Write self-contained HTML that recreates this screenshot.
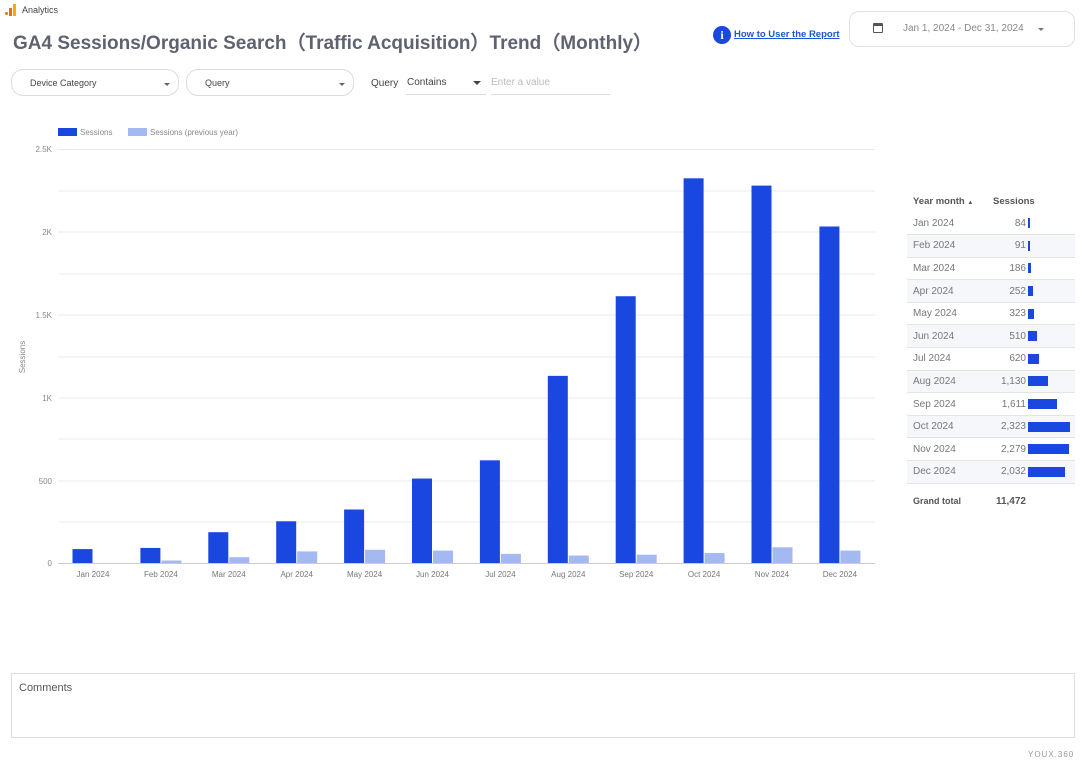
<!DOCTYPE html>
<html><head><meta charset="utf-8"><style>
body{margin:0;width:1085px;height:765px;background:#fff;font-family:"Liberation Sans",sans-serif;position:relative;overflow:hidden;color:#5f6368}
.abs{position:absolute}
.dd{position:absolute;border:1px solid #dadce0;border-radius:12px;height:27px;font-size:9px;color:#444;line-height:27px;padding-left:18px;box-sizing:border-box}
.dd:after{content:"";position:absolute;right:8px;top:13px;border:3px solid transparent;border-top-color:#666}
table{border-collapse:collapse;font-size:10px;table-layout:fixed}
</style></head><body>
<div class="abs" style="left:5px;top:4px;width:12px;height:12px">
<div class="abs" style="left:0;top:8px;width:3px;height:3px;border-radius:2px;background:#e37400"></div>
<div class="abs" style="left:4px;top:4px;width:3px;height:8px;background:#e37400"></div>
<div class="abs" style="left:8px;top:0;width:3px;height:12px;background:#f9ab00"></div></div>
<div class="abs" style="left:22px;top:5px;font-size:9px;color:#444">Analytics</div>
<div class="abs" style="left:13px;top:28px;font-size:19px;font-weight:bold;color:#5f6270;white-space:nowrap">GA4 Sessions/Organic Search（Traffic Acquisition）Trend（Monthly）</div>
<div class="abs" style="left:713px;top:26px;width:18px;height:18px;border-radius:50%;background:#1a47e0;color:#fff;font-weight:bold;font-size:12px;text-align:center;line-height:18px;font-family:'Liberation Serif',serif">i</div>
<div class="abs" style="left:734px;top:29px;font-size:9.5px;color:#1a56d8;text-decoration:underline;font-weight:bold">How to User the Report</div>
<div class="abs" style="left:849px;top:11px;width:226px;height:36px;border:1px solid #e0e0e0;border-radius:10px;box-sizing:border-box"></div>
<div class="abs" style="left:873px;top:23px;width:10px;height:10px;border:1.5px solid #555;border-top-width:3px;border-radius:1px;box-sizing:border-box"></div>
<div class="abs" style="left:903px;top:23px;font-size:10px;color:#888">Jan 1, 2024 - Dec 31, 2024</div>
<div class="abs" style="left:1038px;top:28px;border:3px solid transparent;border-top-color:#777"></div>
<div class="dd" style="left:11px;top:69px;width:168px">Device Category</div>
<div class="dd" style="left:186px;top:69px;width:168px">Query</div>
<div class="abs" style="left:371px;top:78px;font-size:10px;color:#444">Query</div>
<div class="abs" style="left:407px;top:77px;font-size:10px;color:#444">Contains</div>
<div class="abs" style="left:473px;top:81px;border:4px solid transparent;border-top-color:#444"></div>
<div class="abs" style="left:406px;top:94px;width:80px;border-top:1px solid #ddd"></div>
<div class="abs" style="left:491px;top:77px;font-size:10px;color:#bbb">Enter a value</div>
<div class="abs" style="left:491px;top:94px;width:119px;border-top:1px solid #ddd"></div>
<svg class="abs" style="left:0;top:0" width="900" height="600" font-family="Liberation Sans,sans-serif">
<rect x="58" y="128" width="19" height="8" fill="#1a47e0"/><text x="80" y="135" font-size="8" fill="#888">Sessions</text>
<rect x="128" y="128" width="19" height="8" fill="#a4b8f2"/><text x="150" y="135" font-size="8" fill="#888">Sessions (previous year)</text>
<g stroke="#e8e8e8">
<line x1="58" x2="875" y1="149.5" y2="149.5"/><line x1="58" x2="875" y1="191" y2="191"/><line x1="58" x2="875" y1="232" y2="232"/><line x1="58" x2="875" y1="274" y2="274"/><line x1="58" x2="875" y1="315" y2="315"/><line x1="58" x2="875" y1="357" y2="357"/><line x1="58" x2="875" y1="398" y2="398"/><line x1="58" x2="875" y1="439" y2="439"/><line x1="58" x2="875" y1="481" y2="481"/><line x1="58" x2="875" y1="522" y2="522"/></g>
<line x1="58" x2="875" y1="563.5" y2="563.5" stroke="#ccc"/>
<g font-size="8" fill="#888" text-anchor="end">
<text x="52" y="152">2.5K</text><text x="52" y="235">2K</text><text x="52" y="318">1.5K</text><text x="52" y="401">1K</text><text x="52" y="484">500</text><text x="52" y="566">0</text></g>
<text transform="translate(25,357) rotate(-90)" font-size="8" fill="#888" text-anchor="middle">Sessions</text>
<g id="bars"></g>
</svg>
<script>
var s=[84,91,186,252,323,510,620,1130,1611,2323,2279,2032],p=[0,15,35,70,80,75,55,45,50,60,95,75],m=["Jan","Feb","Mar","Apr","May","Jun","Jul","Aug","Sep","Oct","Nov","Dec"],h="";
for(var i=0;i<12;i++){var c=93+i*67.9,k=414/2500;
h+='<rect x="'+(c-20.5)+'" y="'+(563-s[i]*k)+'" width="20" height="'+(s[i]*k)+'" fill="#1a47e0"/>';
if(p[i])h+='<rect x="'+(c+0.5)+'" y="'+(563-p[i]*k)+'" width="20" height="'+(p[i]*k)+'" fill="#a4b8f2"/>';
h+='<text x="'+c+'" y="577" font-size="8" fill="#777" text-anchor="middle">'+m[i]+' 2024</text>';}
document.getElementById("bars").innerHTML=h;
var t='<colgroup><col style="width:78px"><col style="width:42px"><col style="width:48px"></colgroup><tr style="height:22px"><th style="text-align:left;padding-left:6px;color:#555;white-space:nowrap;font-size:9.5px">Year month <span style="font-size:6px">▲</span></th><th style="text-align:left;padding-left:8px;color:#555;font-size:9.5px">Sessions</th><th></th></tr>';
for(var i=0;i<12;i++){t+='<tr style="height:22.6px;background:'+(i%2?'#f6f7fb':'#fff')+';border-bottom:1px solid #e4e4e4"><td style="padding-left:6px;color:#777">'+m[i]+' 2024</td><td style="text-align:right;padding-right:1px;color:#777">'+s[i].toLocaleString("en-US")+'</td><td><div style="height:10px;width:'+Math.max(2,s[i]/2323*42)+'px;background:#1a47e0"></div></td></tr>';}
t+='<tr style="height:36px"><td style="padding-left:6px;font-weight:bold;font-size:9px;color:#555">Grand total</td><td style="text-align:right;font-weight:bold;color:#555">11,472</td><td></td></tr>';
document.write('<table class="abs" style="left:907px;top:190px;width:168px">'+t+'</table>');
</script>
<div class="abs" style="left:11px;top:673px;width:1064px;height:65px;border:1px solid #ddd;box-sizing:border-box"></div>
<div class="abs" style="left:19px;top:682px;font-size:11px;color:#555">Comments</div>
<div class="abs" style="left:1028px;top:750px;font-size:8px;color:#999;letter-spacing:1px">YOUX.360</div>
</body></html>
